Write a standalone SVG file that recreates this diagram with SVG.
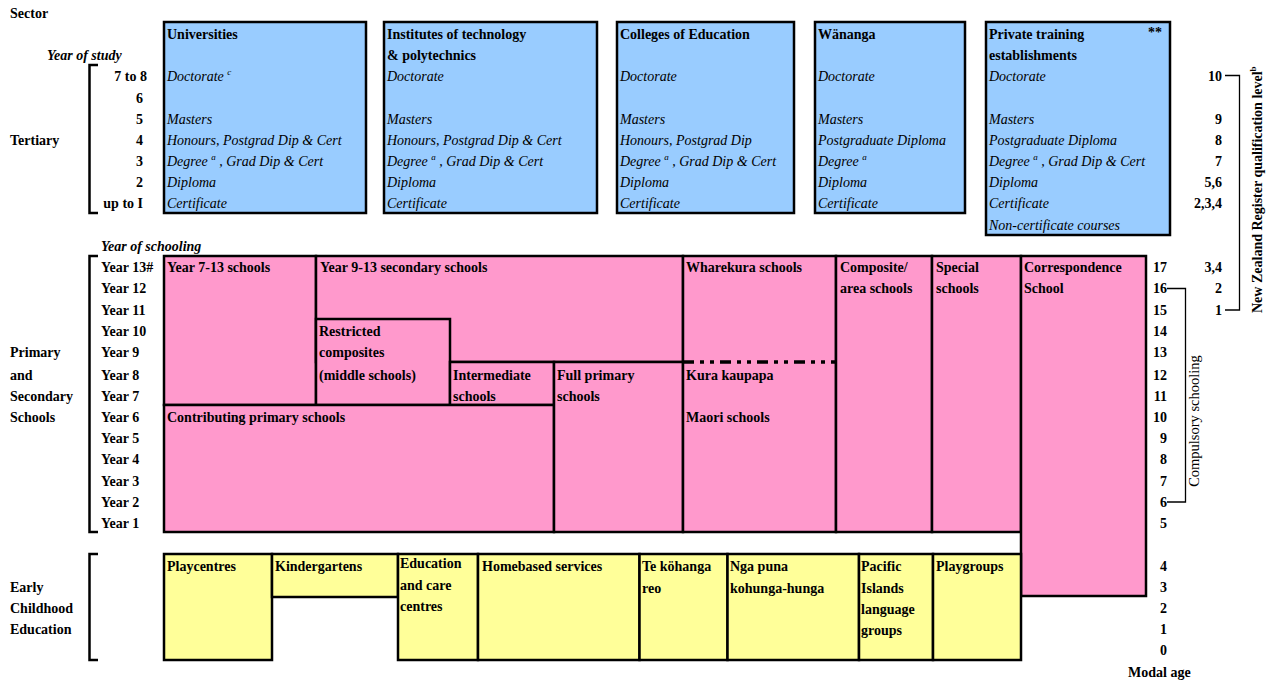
<svg xmlns="http://www.w3.org/2000/svg" width="1275" height="681" viewBox="0 0 1275 681">
<style>
.t{font-family:"Liberation Serif","Times New Roman",serif;font-size:14px;fill:#000}
.b{font-weight:bold}
.i{font-style:italic}
.bi{font-weight:bold;font-style:italic}
.e{text-anchor:end}
.sup{font-size:9px}
.box{stroke:#000;stroke-width:2.5}
.nos{stroke:none}
.edge{fill:none;stroke:#000;stroke-width:2.5}
.blue{fill:#99CCFF}
.pink{fill:#FF99CC}
.yel{fill:#FFFF99}
.br{fill:none;stroke:#000;stroke-width:2.5}
.thin{fill:none;stroke:#000;stroke-width:1.3}
.dd{fill:none;stroke:#000;stroke-width:3.5;stroke-dasharray:11 6 4 6 4 6}
</style>
<rect width="1275" height="681" fill="#fff"/>

<g id="left-labels" class="t b">
<text x="10" y="18">Sector</text>
<text x="47" y="60" class="bi">Year of study</text>
<text x="10" y="145">Tertiary</text>
<text x="147" y="81" class="e">7 to 8</text>
<text x="143" y="103" class="e">6</text>
<text x="143" y="124" class="e">5</text>
<text x="143" y="145" class="e">4</text>
<text x="143" y="166" class="e">3</text>
<text x="143" y="187" class="e">2</text>
<text x="143" y="208" class="e">up to I</text>
<text x="101" y="251" class="bi">Year of schooling</text>
<text x="101" y="272">Year 13#</text>
<text x="101" y="293">Year 12</text>
<text x="101" y="315">Year 11</text>
<text x="101" y="336">Year 10</text>
<text x="101" y="357">Year 9</text>
<text x="101" y="380">Year 8</text>
<text x="101" y="401">Year 7</text>
<text x="101" y="422">Year 6</text>
<text x="101" y="443">Year 5</text>
<text x="101" y="464">Year 4</text>
<text x="101" y="486">Year 3</text>
<text x="101" y="507">Year 2</text>
<text x="101" y="528">Year 1</text>
<text x="10" y="357">Primary</text>
<text x="10" y="380">and</text>
<text x="10" y="401">Secondary</text>
<text x="10" y="422">Schools</text>
<text x="10" y="592">Early</text>
<text x="10" y="613">Childhood</text>
<text x="10" y="634">Education</text>
</g>

<g id="universities">
<rect x="164" y="22" width="202" height="191" class="box blue"/>
<text x="167" y="39" class="t b">Universities</text>
<g class="t i">
<text x="167" y="81">Doctorate <tspan class="sup" dy="-6">c</tspan></text>
<text x="167" y="124">Masters</text>
<text x="167" y="145">Honours, Postgrad Dip &amp; Cert</text>
<text x="167" y="166">Degree <tspan class="sup" dy="-6">a</tspan><tspan dy="6"> , Grad Dip &amp; Cert</tspan></text>
<text x="167" y="187">Diploma</text>
<text x="167" y="208">Certificate</text>
</g>
</g>

<g id="polytechnics">
<rect x="384" y="22" width="213" height="191" class="box blue"/>
<text x="387" y="39" class="t b">Institutes of technology</text>
<text x="387" y="60" class="t b">&amp; polytechnics</text>
<g class="t i">
<text x="387" y="81">Doctorate</text>
<text x="387" y="124">Masters</text>
<text x="387" y="145">Honours, Postgrad Dip &amp; Cert</text>
<text x="387" y="166">Degree <tspan class="sup" dy="-6">a</tspan><tspan dy="6"> , Grad Dip &amp; Cert</tspan></text>
<text x="387" y="187">Diploma</text>
<text x="387" y="208">Certificate</text>
</g>
</g>

<g id="colleges-of-education">
<rect x="617" y="22" width="177" height="191" class="box blue"/>
<text x="620" y="39" class="t b">Colleges of Education</text>
<g class="t i">
<text x="620" y="81">Doctorate</text>
<text x="620" y="124">Masters</text>
<text x="620" y="145">Honours, Postgrad Dip</text>
<text x="620" y="166">Degree <tspan class="sup" dy="-6">a</tspan><tspan dy="6"> , Grad Dip &amp; Cert</tspan></text>
<text x="620" y="187">Diploma</text>
<text x="620" y="208">Certificate</text>
</g>
</g>

<g id="wananga">
<rect x="815" y="22" width="150" height="191" class="box blue"/>
<text x="818" y="39" class="t b">Wänanga</text>
<g class="t i">
<text x="818" y="81">Doctorate</text>
<text x="818" y="124">Masters</text>
<text x="818" y="145">Postgraduate Diploma</text>
<text x="818" y="166">Degree <tspan class="sup" dy="-6">a</tspan></text>
<text x="818" y="187">Diploma</text>
<text x="818" y="208">Certificate</text>
</g>
</g>

<g id="private-training">
<rect x="986" y="22" width="184" height="213" class="box blue"/>
<text x="989" y="39" class="t b">Private training</text>
<text x="989" y="60" class="t b">establishments</text>
<text x="1148" y="37" class="t b">**</text>
<g class="t i">
<text x="989" y="81">Doctorate</text>
<text x="989" y="124">Masters</text>
<text x="989" y="145">Postgraduate Diploma</text>
<text x="989" y="166">Degree <tspan class="sup" dy="-6">a</tspan><tspan dy="6"> , Grad Dip &amp; Cert</tspan></text>
<text x="989" y="187">Diploma</text>
<text x="989" y="208">Certificate</text>
<text x="989" y="230">Non-certificate courses</text>
</g>
</g>

<g id="year-7-13-schools">
<rect x="164" y="256" width="152" height="149" class="box pink"/>
<text x="167" y="272" class="t b">Year 7-13 schools</text>
</g>
<g id="year-9-13-secondary">
<rect x="316" y="256" width="367" height="106" class="box pink"/>
<text x="320" y="272" class="t b">Year 9-13 secondary schools</text>
</g>
<g id="restricted-composites">
<rect x="316" y="319" width="134" height="86" class="box pink"/>
<text x="319" y="336" class="t b">Restricted</text>
<text x="319" y="357" class="t b">composites</text>
<text x="319" y="380" class="t b">(middle schools)</text>
</g>
<g id="intermediate-schools">
<rect x="450" y="362" width="104" height="43" class="box pink"/>
<text x="453" y="380" class="t b">Intermediate</text>
<text x="453" y="401" class="t b">schools</text>
</g>
<g id="contributing-primary">
<rect x="164" y="405" width="390" height="127" class="box pink"/>
<text x="167" y="422" class="t b">Contributing primary schools</text>
</g>
<g id="full-primary">
<rect x="554" y="362" width="129" height="170" class="box pink"/>
<text x="557" y="380" class="t b">Full primary</text>
<text x="557" y="401" class="t b">schools</text>
</g>
<g id="wharekura">
<rect x="683" y="256" width="153" height="106" class="nos pink"/>
<path d="M683,362 V256 H836 V362" class="edge"/>
<text x="686" y="272" class="t b">Wharekura schools</text>
</g>
<g id="kura-kaupapa">
<rect x="683" y="362" width="153" height="170" class="nos pink"/>
<path d="M683,362 V532 H836 V362" class="edge"/>
<text x="686" y="380" class="t b">Kura kaupapa</text>
<text x="686" y="422" class="t b">Maori schools</text>
</g>
<g id="composite-area-schools">
<rect x="836" y="256" width="96" height="276" class="box pink"/>
<text x="840" y="272" class="t b">Composite/</text>
<text x="840" y="293" class="t b">area schools</text>
</g>
<g id="special-schools">
<rect x="932" y="256" width="89" height="276" class="box pink"/>
<text x="936" y="272" class="t b">Special</text>
<text x="936" y="293" class="t b">schools</text>
</g>
<g id="correspondence-school">
<rect x="1021" y="256" width="125" height="340" class="box pink"/>
<text x="1024" y="272" class="t b">Correspondence</text>
<text x="1024" y="293" class="t b">School</text>
</g>

<g id="playcentres">
<rect x="164" y="554" width="108" height="106" class="box yel"/>
<text x="167" y="571" class="t b">Playcentres</text>
</g>
<g id="kindergartens">
<rect x="272" y="554" width="126" height="43" class="box yel"/>
<text x="275" y="571" class="t b">Kindergartens</text>
</g>
<g id="education-care-centres">
<rect x="398" y="554" width="80" height="106" class="box yel"/>
<text x="400" y="568" class="t b">Education</text>
<text x="400" y="590" class="t b">and care</text>
<text x="400" y="611" class="t b">centres</text>
</g>
<g id="homebased-services">
<rect x="478" y="554" width="161.5" height="106" class="box yel"/>
<text x="482" y="571" class="t b">Homebased services</text>
</g>
<g id="te-kohanga-reo">
<rect x="639.5" y="554" width="88" height="106" class="box yel"/>
<text x="642" y="571" class="t b">Te köhanga</text>
<text x="642" y="593" class="t b">reo</text>
</g>
<g id="nga-puna">
<rect x="727.5" y="554" width="131.5" height="106" class="box yel"/>
<text x="730" y="571" class="t b">Nga puna</text>
<text x="730" y="593" class="t b">kohunga-hunga</text>
</g>
<g id="pacific-islands">
<rect x="859" y="554" width="74" height="106" class="box yel"/>
<text x="861" y="571" class="t b">Pacific</text>
<text x="861" y="593" class="t b">Islands</text>
<text x="861" y="614" class="t b">language</text>
<text x="861" y="635" class="t b">groups</text>
</g>
<g id="playgroups">
<rect x="933" y="554" width="88" height="106" class="box yel"/>
<text x="936" y="571" class="t b">Playgroups</text>
</g>

<g id="right-labels" class="t b">
<text x="1222" y="81" class="e">10</text>
<text x="1222" y="124" class="e">9</text>
<text x="1222" y="145" class="e">8</text>
<text x="1222" y="166" class="e">7</text>
<text x="1222" y="187" class="e">5,6</text>
<text x="1222" y="208" class="e">2,3,4</text>
<text x="1222" y="272" class="e">3,4</text>
<text x="1222" y="293" class="e">2</text>
<text x="1222" y="315" class="e">1</text>
<text x="1167" y="272" class="e">17</text>
<text x="1167" y="293" class="e">16</text>
<text x="1167" y="315" class="e">15</text>
<text x="1167" y="336" class="e">14</text>
<text x="1167" y="357" class="e">13</text>
<text x="1167" y="380" class="e">12</text>
<text x="1167" y="401" class="e">11</text>
<text x="1167" y="422" class="e">10</text>
<text x="1167" y="443" class="e">9</text>
<text x="1167" y="464" class="e">8</text>
<text x="1167" y="486" class="e">7</text>
<text x="1167" y="507" class="e">6</text>
<text x="1167" y="528" class="e">5</text>
<text x="1167" y="571" class="e">4</text>
<text x="1167" y="592" class="e">3</text>
<text x="1167" y="613" class="e">2</text>
<text x="1167" y="634" class="e">1</text>
<text x="1167" y="655" class="e">0</text>
<text x="1128" y="677">Modal age</text>
<text transform="translate(1262,313) rotate(-90)">New Zealand Register qualification level<tspan class="sup" dy="-6">b</tspan></text>
<text transform="translate(1198.5,421) rotate(-90)" text-anchor="middle" font-weight="normal" font-size="14.5">Compulsory schooling</text>
</g>

<g id="connectors">
<path d="M98,65 H89.5 V213 H98" class="br"/>
<path d="M98,256 H89.5 V532 H98" class="br"/>
<path d="M98,554 H89.5 V660 H98" class="br"/>
<path d="M683,362 H836" class="dd"/>
<path d="M1167,288.5 H1185.5 V502 H1167" class="thin"/>
<path d="M1225,75.5 H1239.5 V310 H1225" class="thin"/>
</g>
</svg>
